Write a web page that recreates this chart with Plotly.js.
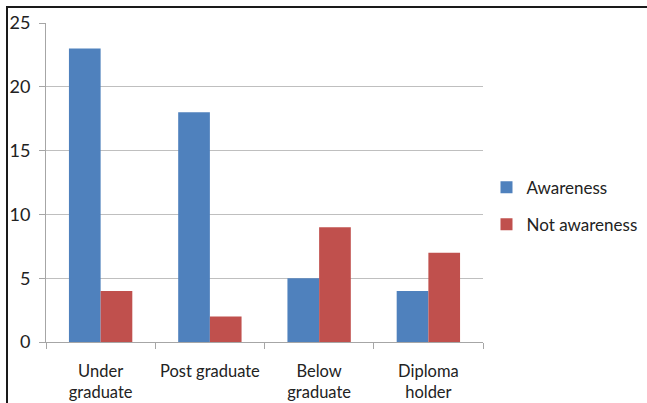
<!DOCTYPE html>
<html><head><meta charset="utf-8">
<script src="https://cdn.plot.ly/plotly-3.0.1.min.js"></script>
<style>
html,body{margin:0;padding:0;background:#fff;}
#wrap{position:relative;width:647px;height:403px;overflow:hidden;}
#chart{position:absolute;left:0;top:0;width:647px;height:403px;}
#frame{position:absolute;left:6px;top:6px;width:700px;height:500px;border-left:2px solid #1a1a1a;border-top:2px solid #1a1a1a;pointer-events:none;}
</style></head>
<body><div id="wrap"><div id="chart"></div><div id="frame"></div></div>
<script>
const categories = ["Under<br>graduate", "Post graduate", "Below<br>graduate", "Diploma<br>holder"];
const awareness = [23, 18, 5, 4];
const notAwareness = [4, 2, 9, 7];
const yTicks = [0, 5, 10, 15, 20, 25];
const fontFam = "Lato, 'Open Sans', sans-serif";

const traces = [
  {type: "bar", name: "Awareness", x: categories, y: awareness, marker: {color: "#4f81bd"}, legendgroup: "a"},
  {type: "bar", name: "Not awareness", x: categories, y: notAwareness, marker: {color: "#c0504d"}, legendgroup: "b"}
];
const layout = {
  width: 647, height: 403,
  margin: {l: 46, r: 164, t: 23, b: 61, autoexpand: false},
  paper_bgcolor: "rgba(0,0,0,0)", plot_bgcolor: "#fff",
  barmode: "group", bargap: 0.42, bargroupgap: 0,
  font: {family: fontFam, size: 17, color: "#222"},
  showlegend: true,
  legend: {x: 1.008, y: 0.426, xanchor: "left", yanchor: "middle", font: {size: 17, color: "#222"}, traceorder: "grouped", tracegroupgap: 12, bgcolor: "rgba(0,0,0,0)"},
  xaxis: {type: "category", automargin: false, tickangle: 0, showline: true, linecolor: "#a6a6a6", linewidth: 1, ticks: "outside", tickson: "boundaries", ticklen: 6, tickcolor: "#a6a6a6", showgrid: false, tickfont: {size: 16.5}, ticklabelstandoff: 14},
  yaxis: {range: [0, 25], automargin: false, tickvals: yTicks, ticktext: yTicks.map(String), showline: true, linecolor: "#a6a6a6", linewidth: 1, ticks: "outside", ticklen: 6, tickcolor: "#a6a6a6", showgrid: true, gridcolor: "#bfbfbf", gridwidth: 1, zeroline: false, tickfont: {size: 18}, ticklabelstandoff: 5}
};
Plotly.newPlot("chart", traces, layout, {displayModeBar: false, staticPlot: true});
</script></body></html>
